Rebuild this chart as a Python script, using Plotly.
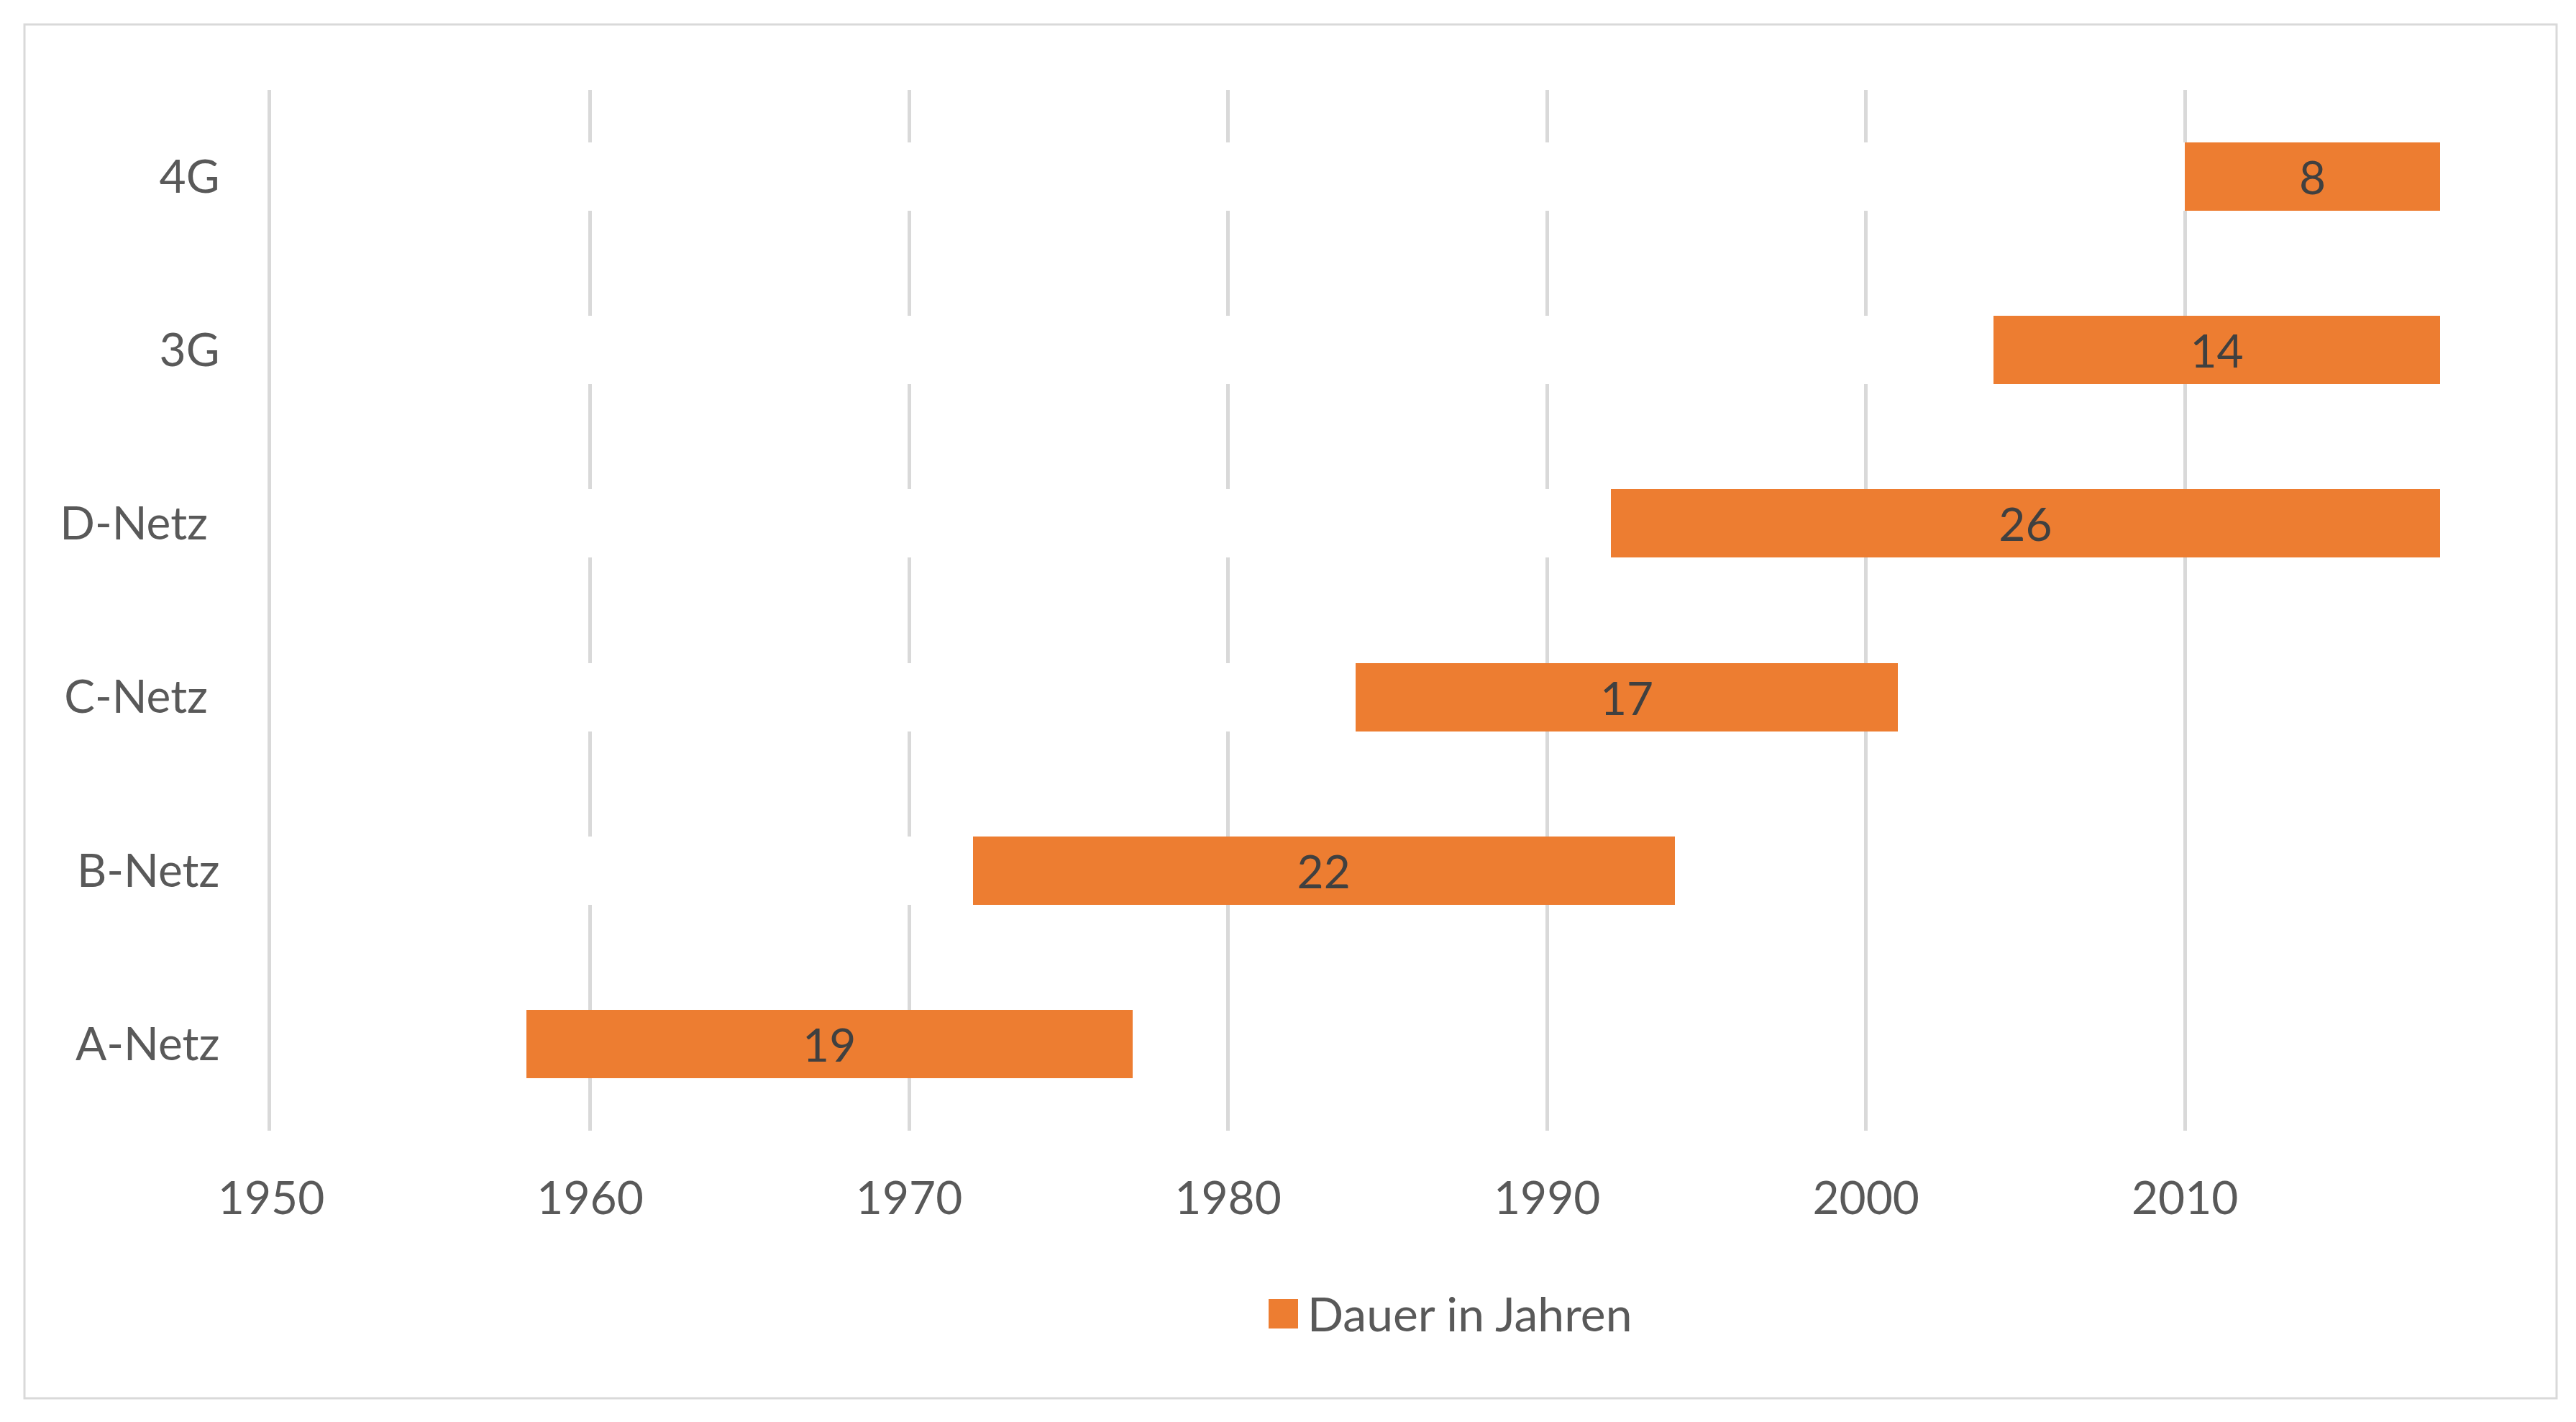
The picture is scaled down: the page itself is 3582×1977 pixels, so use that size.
import plotly.graph_objects as go

# ---- data ----
categories = ["A-Netz", "B-Netz", "C-Netz", "D-Netz", "3G", "4G"]
tick_labels = ["A-Netz", "B-Netz", "C-Netz\u00a0", "D-Netz\u00a0", "3G", "4G"]
start_year = [1958, 1972, 1984, 1992, 2004, 2010]
duration = [19, 22, 17, 26, 14, 8]
series_name = "Dauer in Jahren"
x_ticks = [1950, 1960, 1970, 1980, 1990, 2000, 2010]

# ---- layout constants (pixels) ----
W, H = 3582, 1977
PL, PR, PT, PB = 377, 3393, 125, 1572
FONT = "Lato, 'Open Sans', Arial, sans-serif"
ORANGE = "#ED7D31"
GRID = "#D9D9D9"

def px_x(p):
    return (p - PL) / (PR - PL)

def px_y(p):
    return (PB - p) / (PB - PT)

fig = go.Figure()
fig.add_trace(go.Bar(
    y=categories, x=start_year, orientation="h",
    marker=dict(color="white", line=dict(width=0)),
    showlegend=False, hoverinfo="skip",
))
fig.add_trace(go.Bar(
    y=categories, x=duration, orientation="h", name=series_name,
    marker=dict(color=ORANGE, line=dict(width=0)),
    text=[str(v) for v in duration], textposition="inside",
    insidetextanchor="middle", textangle=0,
    textfont=dict(family=FONT, size=64, color="#404040"),
    showlegend=False,
))

shapes = [
    # outer chart border
    dict(type="rect", xref="paper", yref="paper",
         x0=px_x(34), x1=px_x(3555), y0=px_y(34), y1=px_y(1944),
         line=dict(color=GRID, width=3), fillcolor="rgba(0,0,0,0)", layer="below"),
    # legend swatch
    dict(type="rect", xref="paper", yref="paper",
         x0=px_x(1764), x1=px_x(1805), y0=px_y(1806), y1=px_y(1847),
         line=dict(width=0), fillcolor=ORANGE),
]
annotations = [
    dict(xref="paper", yref="paper", x=px_x(1816), y=px_y(1825),
         xanchor="left", yanchor="middle", showarrow=False,
         text=series_name, font=dict(family=FONT, size=66, color="#595959")),
]

fig.update_layout(
    width=W, height=H,
    margin=dict(l=PL, r=W - PR, t=PT, b=H - PB, pad=0),
    paper_bgcolor="white", plot_bgcolor="white",
    barmode="stack", bargap=0.606,
    showlegend=False,
    shapes=shapes, annotations=annotations,
    font=dict(family=FONT, size=64, color="#595959"),
)
fig.update_xaxes(
    range=[1950, 2018], tickvals=x_ticks, ticktext=[str(v) for v in x_ticks],
    showgrid=True, gridcolor=GRID, gridwidth=4.5, zeroline=False, showline=False,
    ticks="", tickfont=dict(family=FONT, size=64, color="#595959"),
    ticklabelstandoff=51, fixedrange=True,
)
fig.update_yaxes(
    categoryorder="array", categoryarray=categories,
    tickvals=categories, ticktext=tick_labels,
    showgrid=False, zeroline=False, showline=True, linecolor=GRID, linewidth=4.5,
    ticks="", tickfont=dict(family=FONT, size=64, color="#595959"),
    ticklabelstandoff=54, fixedrange=True,
)

fig.write_html("out.html")
